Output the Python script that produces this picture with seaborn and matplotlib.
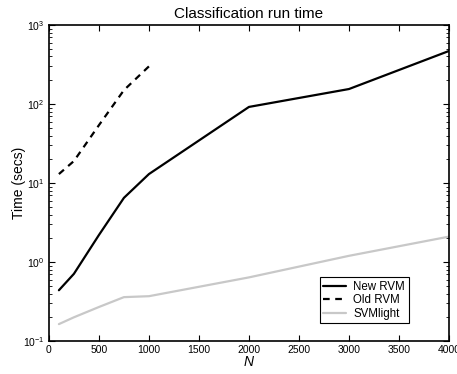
import matplotlib
matplotlib.use("Agg")
import matplotlib.pyplot as plt
import seaborn as sns
import pandas as pd
from matplotlib.ticker import LogLocator, FixedLocator

sns.set_style("ticks")
plt.rcParams['font.family'] = ['Liberation Sans', 'DejaVu Sans']
plt.rcParams['mathtext.fontset'] = 'custom'
plt.rcParams['mathtext.rm'] = 'Liberation Sans'
plt.rcParams['mathtext.it'] = 'Liberation Sans:italic'
plt.rcParams['text.color'] = 'black'
plt.rcParams['axes.labelcolor'] = 'black'

new_n = [100, 250, 500, 750, 1000, 2000, 3000, 4000]
new_t = [0.44, 0.71, 2.2, 6.5, 13, 92, 155, 470]
old_n = [100, 250, 500, 750, 1000]
old_t = [13, 19, 54, 150, 300]
svm_n = [100, 250, 500, 750, 1000, 2000, 3000, 4000]
svm_t = [0.164, 0.2, 0.27, 0.36, 0.37, 0.64, 1.2, 2.1]
labels = ["New RVM", "Old RVM", "SVMlight"]

df = pd.concat([
    pd.DataFrame({"N": new_n, "t": new_t, "method": labels[0]}),
    pd.DataFrame({"N": old_n, "t": old_t, "method": labels[1]}),
    pd.DataFrame({"N": svm_n, "t": svm_t, "method": labels[2]}),
])

fig = plt.figure(figsize=(4.57, 3.74), dpi=100)
ax = fig.add_axes([0.107, 0.088, 0.8755, 0.845])

sns.lineplot(data=df, x="N", y="t", hue="method", style="method",
             palette={labels[0]: "black", labels[1]: "black", labels[2]: "#c8c8c8"},
             dashes={labels[0]: "", labels[1]: (3, 2.5), labels[2]: ""},
             linewidth=1.6, ax=ax, legend=True)

ax.set_yscale("log")
ax.set_xlim(0, 4000)
ax.set_ylim(0.1, 1000)
ax.xaxis.set_major_locator(FixedLocator([0, 500, 1000, 1500, 2000, 2500, 3000, 3500, 4000]))
ax.yaxis.set_major_locator(LogLocator(base=10, numticks=10))
ax.yaxis.set_minor_locator(LogLocator(base=10, subs=range(2, 10), numticks=10))

ax.tick_params(axis='both', which='both', direction='in', top=True, right=True,
               labelsize=7.5, color='black', labelcolor='black', pad=3)
ax.tick_params(which='major', length=4, width=0.8)
ax.tick_params(which='minor', length=2, width=0.6)
for s in ax.spines.values():
    s.set_linewidth(1.2)
    s.set_color('black')

ax.set_title("Classification run time", fontsize=11, pad=5)
ax.set_xlabel("$N$", fontsize=10, labelpad=0)
ax.set_ylabel("Time (secs)", fontsize=10, labelpad=-2)

leg = ax.legend(loc='upper left', bbox_to_anchor=(0.6775, 0.2025), fontsize=8.3,
                frameon=True, fancybox=False, edgecolor='black', framealpha=1,
                handlelength=2.0, borderpad=0.3, labelspacing=0.15, handletextpad=0.6,
                borderaxespad=0)
leg.get_frame().set_linewidth(0.8)
for t in leg.get_texts():
    t.set_color('black')

fig.savefig("out.png", dpi=100)
